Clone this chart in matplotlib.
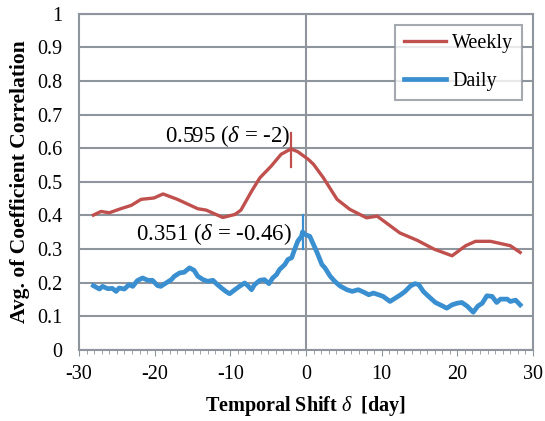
import matplotlib
matplotlib.use('Agg')
import matplotlib.pyplot as plt

weekly_x = [-28.1, -27.1, -26.0, -24.5, -23.1, -21.8, -20.1, -18.9, -17.0, -14.3,
            -13.2, -11.0, -9.4, -8.6, -7.2, -6.1, -4.6, -3.3, -2.0, -1.1,
            0.3, 1.0, 2.3, 4.1, 5.8, 8.0, 9.4, 12.4, 14.7, 16.9,
            19.3, 21.1, 22.4, 24.4, 27.0, 28.3]
weekly_y = [0.401, 0.412, 0.408, 0.420, 0.430, 0.448, 0.452, 0.464, 0.448, 0.420,
            0.416, 0.394, 0.403, 0.416, 0.472, 0.512, 0.547, 0.582, 0.598, 0.590,
            0.567, 0.552, 0.512, 0.448, 0.418, 0.393, 0.398, 0.348, 0.326, 0.300,
            0.280, 0.310, 0.323, 0.323, 0.310, 0.290]

daily_x = [-28.1, -27.3, -26.9, -26.2, -25.6, -25.1, -24.7, -24.0, -23.4, -22.9,
           -22.3, -21.6, -20.9, -20.3, -19.6, -19.2, -18.5, -17.8, -17.4, -16.7,
           -16.1, -15.4, -14.8, -14.3, -13.6, -13.0, -12.3, -11.7, -11.0, -10.6,
           -10.1, -9.4, -8.8, -8.1, -7.7, -7.2, -6.8, -6.1, -5.5, -4.9,
           -4.4, -3.9, -3.5, -2.8, -2.4, -1.9, -1.5, -1.1, -0.6, -0.46,
           -0.1, 0.5, 1.0, 1.4, 2.1, 2.5, 3.2, 3.8, 4.5, 5.4,
           6.1, 6.9, 7.6, 8.3, 8.9, 9.6, 10.2, 11.1, 11.8, 12.5,
           13.1, 13.8, 14.4, 14.9, 15.5, 16.2, 17.1, 18.0, 18.6, 19.3,
           20.0, 20.6, 21.3, 22.1, 22.7, 23.3, 23.9, 24.6, 25.2, 25.7,
           26.6, 27.0, 27.7, 28.3]
daily_y = [0.191, 0.181, 0.189, 0.182, 0.183, 0.174, 0.184, 0.181, 0.194, 0.189,
           0.206, 0.214, 0.207, 0.207, 0.191, 0.189, 0.199, 0.209, 0.219, 0.229,
           0.231, 0.244, 0.237, 0.219, 0.209, 0.204, 0.207, 0.194, 0.181, 0.174,
           0.167, 0.179, 0.189, 0.199, 0.191, 0.179, 0.194, 0.207, 0.209, 0.197,
           0.214, 0.224, 0.239, 0.254, 0.269, 0.274, 0.299, 0.323, 0.338, 0.351,
           0.343, 0.338, 0.313, 0.293, 0.254, 0.244, 0.219, 0.204, 0.190, 0.179,
           0.174, 0.179, 0.172, 0.164, 0.169, 0.164, 0.159, 0.144, 0.154, 0.164,
           0.174, 0.190, 0.197, 0.194, 0.174, 0.159, 0.141, 0.131, 0.124, 0.134,
           0.139, 0.141, 0.130, 0.112, 0.130, 0.139, 0.161, 0.159, 0.141, 0.151,
           0.151, 0.144, 0.148, 0.134]

peak_week = (-2, 0.595)
peak_day = (-0.46, 0.351)

red = '#c0504d'
blue = '#3a8fd0'
grey = '#8e959c'

plt.rcParams['font.family'] = ['Liberation Serif', 'DejaVu Serif']
plt.rcParams['mathtext.fontset'] = 'custom'
plt.rcParams['mathtext.rm'] = 'Liberation Serif'
plt.rcParams['mathtext.it'] = 'Liberation Serif:italic'
plt.rcParams['mathtext.bf'] = 'Liberation Serif:bold'
plt.rcParams['axes.unicode_minus'] = False

fig = plt.figure(figsize=(5.45, 4.21), dpi=100)
ax = fig.add_axes([0.145, 0.169, 0.833, 0.798])

ax.plot(weekly_x, weekly_y, color=red, lw=2.4, label='Weekly', zorder=3)
ax.plot(daily_x, daily_y, color=blue, lw=3.4, label='Daily', zorder=3)

# peak markers
ax.plot([peak_week[0]] * 2, [peak_week[1] - 0.05, peak_week[1] + 0.05], color=red, lw=1.6, zorder=4)
ax.plot([peak_day[0]] * 2, [peak_day[1] - 0.05, peak_day[1] + 0.05], color=blue, lw=1.6, zorder=4)

ax.text(-2.1, 0.618, r'0.595 ($\delta$ = -2)', ha='right', va='baseline', fontsize=16.5)
ax.text(-1.9, 0.328, r'0.351 ($\delta$ = -0.46)', ha='right', va='baseline', fontsize=16.5)

ax.set_xlim(-30, 30)
ax.set_ylim(0, 1)
ax.set_xticks(range(-30, 31, 10))
ax.set_xticks(range(-30, 31, 1), minor=True)
ax.set_yticks([i / 10 for i in range(11)])
ax.set_yticklabels(['0', '0.1', '0.2', '0.3', '0.4', '0.5', '0.6', '0.7', '0.8', '0.9', '1'])
ax.grid(axis='y', color=grey, lw=1.5, zorder=1)
ax.axvline(0, color=grey, lw=1.5, zorder=1)
for s in ax.spines.values():
    s.set_color(grey)
    s.set_linewidth(1.5)
ax.tick_params(axis='y', length=0, labelsize=14.5, pad=12)
ax.tick_params(axis='x', which='major', length=4, color=grey, labelsize=14.5, pad=7)
ax.tick_params(axis='x', which='minor', length=3, color=grey)

ax.set_xlabel(r'Temporal Shift $\delta$  [day]', fontsize=14.5, fontweight='bold', labelpad=7)
ax.set_ylabel('Avg. of Coefficient Correlation', fontsize=15.5, fontweight='bold', labelpad=5)

leg = ax.legend(loc='upper right', bbox_to_anchor=(0.99, 0.985), fontsize=14.5, frameon=True,
                fancybox=False, edgecolor=grey, handlelength=2.1, borderpad=0.45,
                labelspacing=0.95, handletextpad=0.3, borderaxespad=0.3)
leg.get_frame().set_linewidth(1.5)

fig.savefig('out.png', dpi=100)
